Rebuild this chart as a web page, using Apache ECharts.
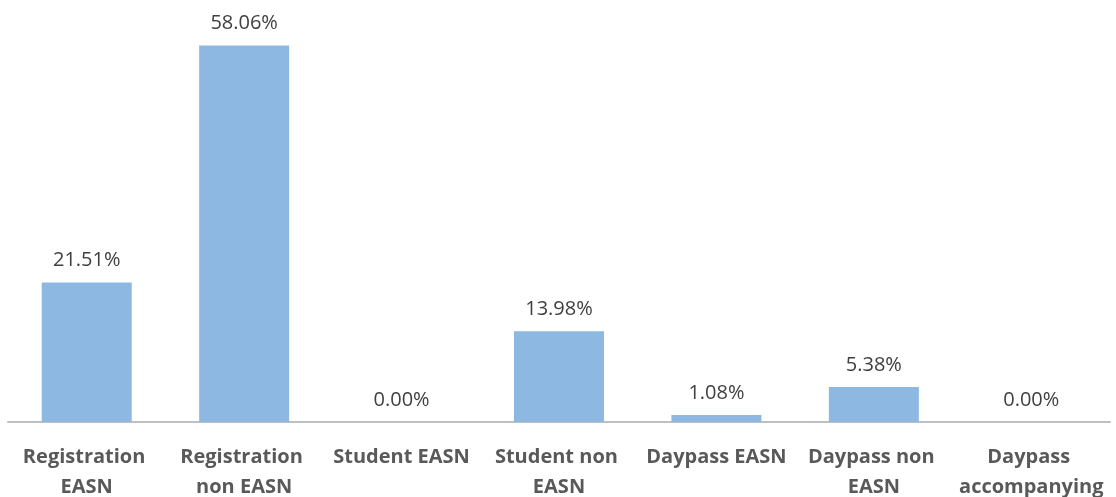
<!DOCTYPE html>
<html>
<head>
<meta charset="utf-8">
<script src="https://cdn.jsdelivr.net/npm/echarts@6/dist/echarts.min.js"></script>
<style>
html,body{margin:0;padding:0;background:#fff;}
#chart{width:1116px;height:497px;}
</style>
</head>
<body>
<div id="chart"></div>
<script>
const categories = ['Registration EASN', 'Registration non EASN', 'Student EASN', 'Student non EASN', 'Daypass EASN', 'Daypass non EASN', 'Daypass accompanying'];
const values = [21.51, 58.06, 0.00, 13.98, 1.08, 5.38, 0.00];

const chart = echarts.init(document.getElementById('chart'));
chart.setOption({
  animation: false,
  grid: { left: 8, right: 6, top: 33, bottom: 75, containLabel: false, outerBoundsMode: 'none' },
  xAxis: {
    type: 'category',
    data: categories,
    axisLine: { show: true, lineStyle: { color: '#BFBFBF', width: 2 } },
    axisTick: { show: false },
    axisLabel: {
      interval: 0,
      margin: 20,
      width: 150,
      overflow: 'break',
      fontFamily: 'Open Sans',
      fontWeight: 'bold',
      fontSize: 20,
      lineHeight: 30,
      color: '#595959'
    }
  },
  yAxis: {
    type: 'value',
    min: 0,
    max: 60,
    show: false,
    splitLine: { show: false }
  },
  series: [{
    type: 'bar',
    data: values,
    barWidth: 90,
    itemStyle: { color: '#8DB8E2' },
    label: {
      show: true,
      position: 'top',
      distance: 12,
      fontFamily: 'Open Sans',
      fontSize: 20,
      color: '#404040',
      formatter: p => p.value.toFixed(2) + '%'
    }
  }]
});
</script>
</body>
</html>
